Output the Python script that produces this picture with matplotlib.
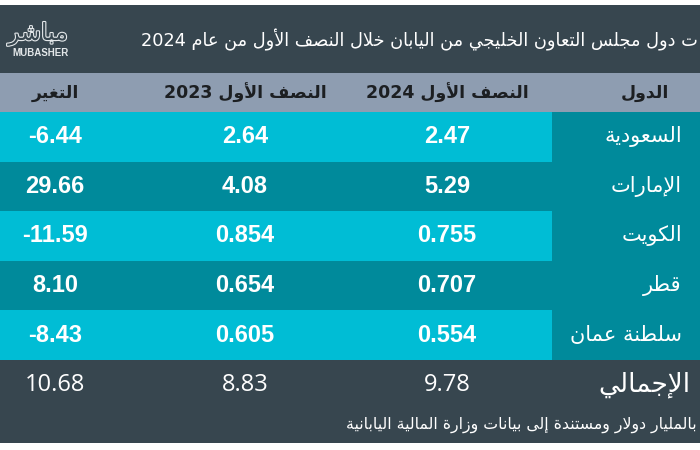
import re
import matplotlib
matplotlib.use('Agg')
import matplotlib.pyplot as plt
import matplotlib.patheffects as pe

# ---- data ----
title = 'ت دول مجلس التعاون الخليجي من اليابان خلال النصف الأول من عام 2024'
headers = ['الدول', 'النصف الأول 2024', 'النصف الأول 2023', 'التغير']
countries = ['السعودية', 'الإمارات', 'الكويت', 'قطر', 'سلطنة عمان']
h1_2024 = [2.47, 5.29, 0.755, 0.707, 0.554]
h1_2023 = [2.64, 4.08, 0.854, 0.654, 0.605]
change = [-6.44, 29.66, -11.59, 8.10, -8.43]
total_label = 'الإجمالي'
totals = [9.78, 8.83, 10.68]
note = 'بالمليار دولار ومستندة إلى بيانات وزارة المالية اليابانية'

# ---- minimal arabic shaping (presentation forms) + rtl ordering ----
FORMS = {
    'ء': (0xFE80, 1), 'آ': (0xFE81, 2), 'أ': (0xFE83, 2), 'ؤ': (0xFE85, 2),
    'إ': (0xFE87, 2), 'ئ': (0xFE89, 4), 'ا': (0xFE8D, 2), 'ب': (0xFE8F, 4),
    'ة': (0xFE93, 2), 'ت': (0xFE95, 4), 'ث': (0xFE99, 4), 'ج': (0xFE9D, 4),
    'ح': (0xFEA1, 4), 'خ': (0xFEA5, 4), 'د': (0xFEA9, 2), 'ذ': (0xFEAB, 2),
    'ر': (0xFEAD, 2), 'ز': (0xFEAF, 2), 'س': (0xFEB1, 4), 'ش': (0xFEB5, 4),
    'ص': (0xFEB9, 4), 'ض': (0xFEBD, 4), 'ط': (0xFEC1, 4), 'ظ': (0xFEC5, 4),
    'ع': (0xFEC9, 4), 'غ': (0xFECD, 4), 'ف': (0xFED1, 4), 'ق': (0xFED5, 4),
    'ك': (0xFED9, 4), 'ل': (0xFEDD, 4), 'م': (0xFEE1, 4), 'ن': (0xFEE5, 4),
    'ه': (0xFEE9, 4), 'و': (0xFEED, 2), 'ى': (0xFEEF, 2), 'ي': (0xFEF1, 4),
}
LAM_ALEF = {'آ': 0xFEF5, 'أ': 0xFEF7, 'إ': 0xFEF9, 'ا': 0xFEFB}


def ar(text):
    items = []
    i = 0
    while i < len(text):
        c = text[i]
        if c == 'ل' and i + 1 < len(text) and text[i + 1] in LAM_ALEF:
            items.append((LAM_ALEF[text[i + 1]], 2))
            i += 2
        elif c in FORMS:
            items.append(FORMS[c])
            i += 1
        else:
            items.append(c)
            i += 1
    out = []
    for k, it in enumerate(items):
        if isinstance(it, str):
            out.append(it)
            continue
        base, n = it
        prev = items[k - 1] if k > 0 else None
        nxt = items[k + 1] if k + 1 < len(items) else None
        p = n > 1 and isinstance(prev, tuple) and prev[1] == 4
        q = n == 4 and isinstance(nxt, tuple) and nxt[1] > 1
        if p and q:
            out.append(chr(base + 3))
        elif p:
            out.append(chr(base + 1))
        elif q:
            out.append(chr(base + 2))
        else:
            out.append(chr(base))
    vis = ''.join(out)[::-1]
    return re.sub(r'[0-9][0-9.]*', lambda m: m.group()[::-1], vis)


# ---- figure ----
W, H = 700, 450
fig = plt.figure(figsize=(7, 4.5), dpi=100)
fig.patch.set_facecolor('white')
ax = fig.add_axes([0, 0, 1, 1])
ax.set_xlim(0, W)
ax.set_ylim(H, 0)
ax.axis('off')

dark = '#37464f'
headbg = '#8e9db1'
light = '#00bdd5'
teal = '#008a9b'
AR = ['DejaVu Sans']
NUM = ['Liberation Sans', 'DejaVu Sans']

top_band = (5, 73)
head_band = (73, 112)
row_top, row_h = 112, 49.6
split_x = 552
col_x = [None, 447, 245, 55]

ax.barh((top_band[0] + top_band[1]) / 2, W, height=top_band[1] - top_band[0],
        left=0, color=dark, linewidth=0)
ax.barh((head_band[0] + head_band[1]) / 2, W, height=head_band[1] - head_band[0],
        left=0, color=headbg, linewidth=0)

n = len(countries)
ys = [row_top + row_h * (i + 0.5) for i in range(n)]
ax.barh(ys, W, height=row_h, left=0, color=teal, linewidth=0)
ax.barh(ys[::2], split_x, height=row_h, left=0, color=light, linewidth=0)

bot_top = row_top + row_h * n
bot_end = 443
ax.barh((bot_top + bot_end) / 2, W, height=bot_end - bot_top, left=0,
        color=dark, linewidth=0)

# title and logo
ax.text(698, 40, ar(title), ha='right', va='center', color='white',
        fontsize=12.8, family=AR)
ax.text(68, 34, ar('مباشر'), ha='right', va='center', color=dark,
        fontsize=17, family=AR,
        path_effects=[pe.withStroke(linewidth=1.6, foreground='#e4e8ea')])
ax.text(69, 53, 'MUBASHER', ha='right', va='center', color='#e4e8ea',
        fontsize=7, fontweight='bold', family=NUM)

# column headers
hy = (head_band[0] + head_band[1]) / 2
ax.text(645, hy, ar(headers[0]), ha='center', va='center', color='#1c1f22',
        fontsize=12.5, fontweight='bold', family=AR)
for j in range(1, 4):
    ax.text(col_x[j], hy, ar(headers[j]), ha='center', va='center',
            color='#1c1f22', fontsize=12.5, fontweight='bold', family=AR)

# rows
for i in range(n):
    y = ys[i]
    ax.text(682, y, ar(countries[i]), ha='right', va='center', color='white',
            fontsize=15, family=AR)
    ax.text(col_x[1], y, f'{h1_2024[i]:.3g}', ha='center', va='center',
            color='white', fontsize=17, fontweight='bold', family=NUM)
    ax.text(col_x[2], y, f'{h1_2023[i]:.3g}', ha='center', va='center',
            color='white', fontsize=17, fontweight='bold', family=NUM)
    ax.text(col_x[3], y, f'{change[i]:.2f}', ha='center', va='center',
            color='white', fontsize=17, fontweight='bold', family=NUM)

# total row
ty = 385
ax.text(690, ty, ar(total_label), ha='right', va='center', color='white',
        fontsize=19, family=AR)
for j in range(3):
    ax.text(col_x[j + 1], ty, f'{totals[j]:.2f}', ha='center', va='center',
            color='white', fontsize=17, family=['Open Sans', 'DejaVu Sans'])

ax.text(697, 425, ar(note), ha='right', va='center', color='white',
        fontsize=11.3, family=AR)

fig.savefig('out.png', dpi=100)
